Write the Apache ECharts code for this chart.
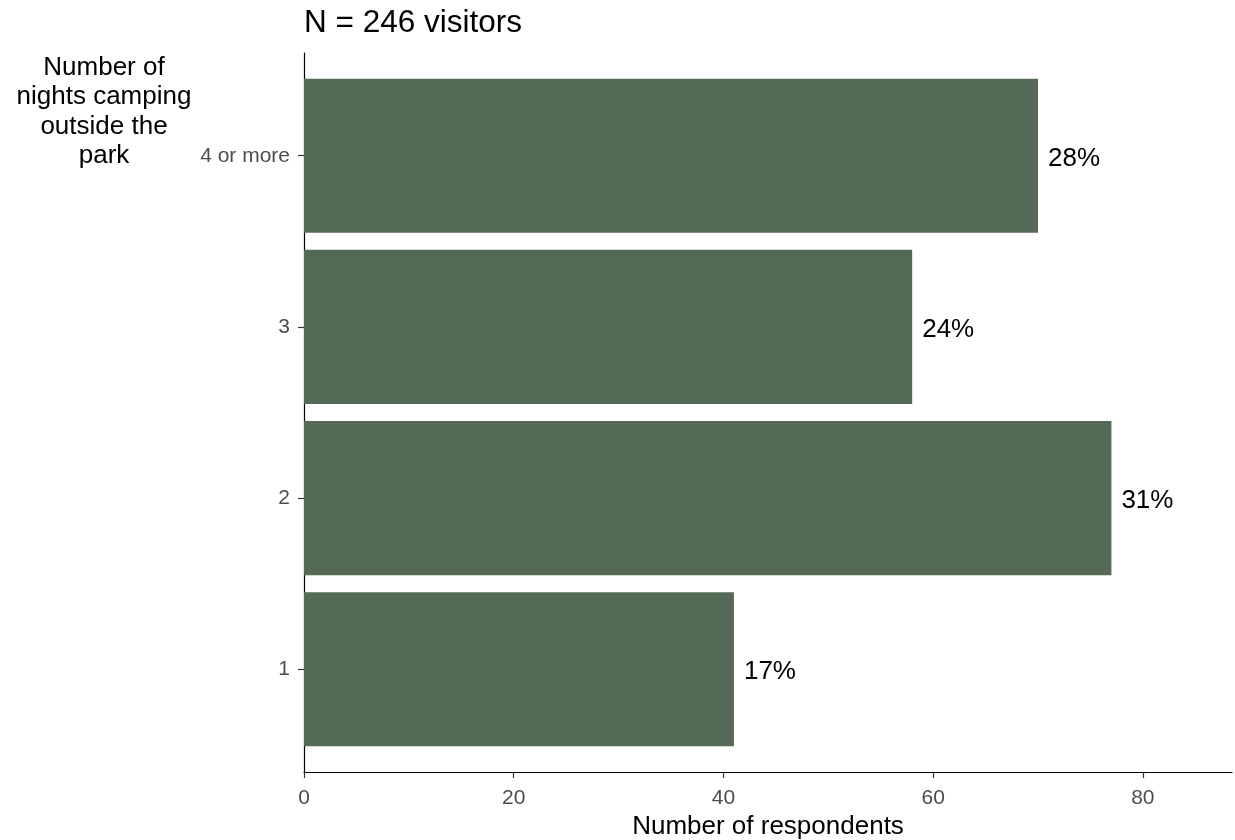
<!DOCTYPE html>
<html>
<head>
<meta charset="utf-8">
<script src="https://cdn.jsdelivr.net/npm/echarts@6/dist/echarts.min.js"></script>
<style>
html,body{margin:0;padding:0;background:#fff;}
#chart{width:1235px;height:840px;}
</style>
</head>
<body>
<div id="chart"></div>
<script>
// ---- data ----
const categories = ['1', '2', '3', '4 or more'];
const counts = [41, 77, 58, 70];
const percentLabels = ['17%', '31%', '24%', '28%'];
const xTicks = [0, 20, 40, 60, 80];
const titleText = 'N = 246 visitors';
const yTitle = 'Number of\nnights camping\noutside the\npark';
const xTitle = 'Number of respondents';

const FONT = '"Liberation Sans", Arial, sans-serif';
const BAR_COLOR = '#546a55';

const seriesData = counts.map((c, i) => [c, i + 1, percentLabels[i]]);

const chart = echarts.init(document.getElementById('chart'), null, {renderer: 'canvas'});
chart.setOption({
  animation: false,
  backgroundColor: '#ffffff',
  grid: {left: 304, right: 3, top: 53, bottom: 68, containLabel: false, outerBoundsMode: 'none'},
  xAxis: {
    type: 'value', min: 0, max: 88.5,
    name: xTitle, nameLocation: 'middle', nameGap: 42,
    nameTextStyle: {fontFamily: FONT, fontSize: 26, color: '#000'},
    axisLine: {show: true, lineStyle: {color: '#000', width: 1.2}},
    axisTick: {show: true, length: 6, customValues: xTicks, lineStyle: {color: '#333', width: 1.2}},
    axisLabel: {customValues: xTicks, margin: 16, fontFamily: FONT, fontSize: 21, color: '#4d4d4d'},
    splitLine: {show: false}
  },
  yAxis: {
    type: 'value', min: 0.4, max: 4.6,
    axisLine: {show: true, onZero: false, lineStyle: {color: '#000', width: 1.2}},
    axisTick: {show: true, length: 6, customValues: [1, 2, 3, 4], lineStyle: {color: '#333', width: 1.2}},
    axisLabel: {
      customValues: [1, 2, 3, 4], margin: 14, fontFamily: FONT, fontSize: 21, color: '#4d4d4d',
      padding: [4, 0, 0, 0],
      formatter: v => categories[Math.round(v) - 1] || ''
    },
    splitLine: {show: false}
  },
  graphic: [
    {type: 'text', x: 304, y: 23, style: {text: titleText, font: '31.5px ' + FONT, fill: '#000', align: 'left', verticalAlign: 'middle'}},
    {type: 'text', x: 104, y: 112, style: {text: yTitle, font: '26px ' + FONT, fill: '#000', align: 'center', verticalAlign: 'middle', lineHeight: 29.5}}
  ],
  series: [{
    type: 'custom',
    coordinateSystem: 'cartesian2d',
    encode: {x: 0, y: 1},
    data: seriesData,
    renderItem: function (params, api) {
      const v = api.value(0), cat = api.value(1);
      const p0 = api.coord([0, cat]);
      const p1 = api.coord([v, cat]);
      const h = api.size([0, 0.9])[1];
      return {
        type: 'group',
        children: [
          {type: 'rect', shape: {x: p0[0], y: p0[1] - h / 2, width: p1[0] - p0[0], height: h}, style: {fill: BAR_COLOR}},
          {type: 'text', x: p1[0] + 10, y: p1[1] + 3, style: {text: seriesData[params.dataIndex][2], font: '26px ' + FONT, fill: '#000', align: 'left', verticalAlign: 'middle'}}
        ]
      };
    }
  }]
});
</script>
</body>
</html>
